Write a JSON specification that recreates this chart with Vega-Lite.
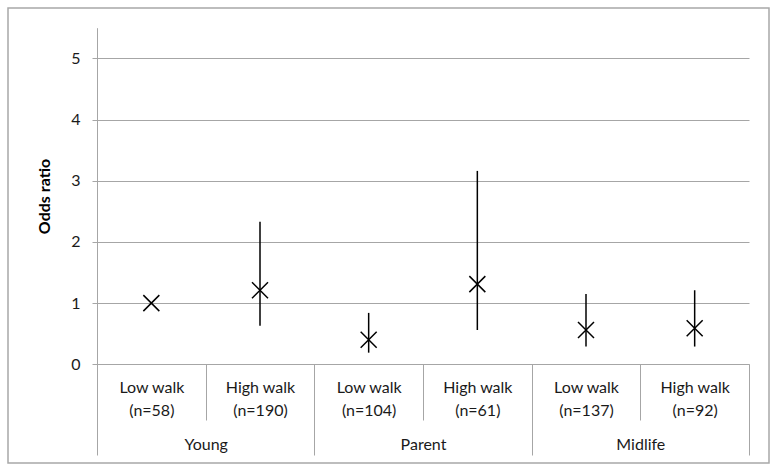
{
  "$schema": "https://vega.github.io/schema/vega-lite/v6.json",
  "width": 761,
  "height": 455,
  "autosize": {"type": "none"},
  "padding": {"left": 8, "top": 8, "right": 9, "bottom": 10},
  "background": "white",
  "data": {
    "values": [
      {"group": "Young", "cat": "Low walk (n=58)", "or": 1.0, "lo": null, "hi": null},
      {"group": "Young", "cat": "High walk (n=190)", "or": 1.21, "lo": 0.63, "hi": 2.33},
      {"group": "Parent", "cat": "Low walk (n=104)", "or": 0.40, "lo": 0.19, "hi": 0.84},
      {"group": "Parent", "cat": "High walk (n=61)", "or": 1.31, "lo": 0.56, "hi": 3.16},
      {"group": "Midlife", "cat": "Low walk (n=137)", "or": 0.56, "lo": 0.29, "hi": 1.15},
      {"group": "Midlife", "cat": "High walk (n=92)", "or": 0.59, "lo": 0.29, "hi": 1.21}
    ]
  },
  "resolve": {"scale": {"x": "independent"}},
  "layer": [
    {
      "encoding": {
        "x": {
          "field": "cat",
          "type": "nominal",
          "scale": {
            "domain": ["Low walk (n=58)", "High walk (n=190)", "Low walk (n=104)", "High walk (n=61)", "Low walk (n=137)", "High walk (n=92)"],
            "range": [89, 741], "paddingInner": 0, "paddingOuter": 0
          },
          "axis": {
            "title": null,
            "orient": "bottom",
            "offset": -99,
            "domain": false,
            "grid": false,
            "tickBand": "extent",
            "tickSize": 56,
            "tickColor": "#a6a6a6",
            "labelPadding": -41,
            "labelLineHeight": 23,
            "labelAngle": 0,
            "labelOverlap": false,
            "labelExpr": "[slice(datum.label, 0, indexof(datum.label, ' (')), slice(datum.label, indexof(datum.label, ' (') + 1)]"
          }
        },
        "y": {
          "field": "or",
          "type": "quantitative",
          "scale": {"domain": [0, 5.5], "range": [356.3, 19.7], "nice": false, "zero": true},
          "axis": {
            "title": "Odds ratio",
            "offset": -89,
            "values": [0, 1, 2, 3, 4, 5],
            "format": "d",
            "grid": true,
            "gridColor": "#a6a6a6",
            "domainColor": "#a6a6a6",
            "tickColor": "#a6a6a6",
            "tickSize": 5,
            "labelPadding": 12,
            "titleFontWeight": "bold",
            "titleFontSize": 16,
            "titleFont": "Lato",
            "titleColor": "#000000",
            "titlePadding": 18
          }
        }
      },
      "layer": [
        {
          "mark": {"type": "rule", "color": "#000000", "strokeWidth": 1.5},
          "encoding": {
            "y": {"field": "lo", "type": "quantitative"},
            "y2": {"field": "hi"}
          }
        },
        {
          "mark": {
            "type": "point",
            "shape": "M-1,-1L1,1M-1,1L1,-1",
            "filled": false,
            "stroke": "#000000",
            "strokeWidth": 1.5,
            "size": 256,
            "opacity": 1
          }
        }
      ]
    },
    {
      "mark": {"type": "point", "opacity": 0},
      "encoding": {
        "x": {
          "field": "group",
          "type": "nominal",
          "scale": {
            "domain": ["Young", "Parent", "Midlife"],
            "range": [89, 741], "paddingInner": 0, "paddingOuter": 0
          },
          "axis": {
            "title": null,
            "orient": "bottom",
            "offset": -99,
            "domain": false,
            "grid": false,
            "tickBand": "extent",
            "tickSize": 91,
            "tickColor": "#a6a6a6",
            "labelPadding": -19,
            "labelAngle": 0,
            "labelOverlap": false
          }
        },
        "y": {"field": "or", "type": "quantitative"}
      }
    }
  ],
  "config": {
    "view": {"stroke": "#a8a8a8", "strokeWidth": 1.5},
    "axis": {
      "labelFont": "Lato",
      "labelFontSize": 16,
      "labelColor": "#1a1a1a"
    }
  }
}
